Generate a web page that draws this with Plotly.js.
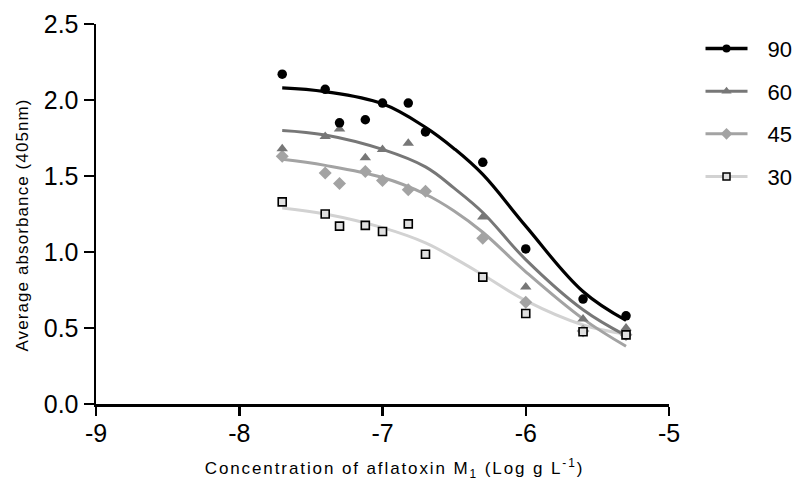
<!DOCTYPE html>
<html>
<head>
<meta charset="utf-8">
<script src="https://cdn.plot.ly/plotly-3.0.1.min.js"></script>
<style>
html,body{margin:0;padding:0;background:#fff;}
#chart{width:795px;height:483px;}
#chart .g-xtitle text{letter-spacing:1.9px;}
#chart .g-xtitle{transform:translate(12px,3px);}
#chart .g-ytitle text{letter-spacing:1.1px;}
#chart .g-ytitle{transform:translate(-3px,11px);}
#chart .legendtext{transform:translateX(15px);}
#chart .legend .scrollbox, #chart .legend, #chart .infolayer{clip-path:none !important;}
#chart g.xtick{transform:translateY(-4px);}
</style>
</head>
<body>
<div id="chart"></div>
<script>
// Measured points: log concentration (Log g L-1)
var logConc = [-7.7, -7.4, -7.3, -7.12, -7.0, -6.82, -6.7, -6.3, -6.0, -5.6, -5.3];
var abs90 = [2.17, 2.07, 1.85, 1.87, 1.98, 1.98, 1.79, 1.59, 1.02, 0.69, 0.58];
var logConc60 = [-7.7, -7.4, -7.3, -7.12, -7.0, -6.82, -6.3, -6.0, -5.6, -5.3];
var abs60 = [1.68, 1.76, 1.81, 1.62, 1.675, 1.715, 1.23, 0.77, 0.56, 0.50];
var abs45 = [1.63, 1.52, 1.45, 1.53, 1.47, 1.41, 1.40, 1.09, 0.67, 0.48, 0.455];
var abs30 = [1.33, 1.25, 1.17, 1.175, 1.135, 1.185, 0.985, 0.835, 0.595, 0.475, 0.455];

// Fitted curves
var curveX = [-7.7, -7.4, -7.0, -6.7, -6.5, -6.3, -6.0, -5.6, -5.3];
var fit90 = [2.08, 2.055, 1.975, 1.82, 1.68, 1.51, 1.17, 0.74, 0.55];
var fit60 = [1.80, 1.77, 1.675, 1.56, 1.42, 1.26, 0.95, 0.62, 0.45];
var fit45 = [1.61, 1.57, 1.49, 1.38, 1.27, 1.13, 0.87, 0.56, 0.38];
var fit30 = [1.29, 1.25, 1.16, 1.06, 0.96, 0.85, 0.68, 0.52, 0.46];

var seriesNames = ['90', '60', '45', '30'];
var xTicks = [-9, -8, -7, -6, -5];
var yTicks = [0, 0.5, 1.0, 1.5, 2.0, 2.5];
var yTickText = ['0.0', '0.5', '1.0', '1.5', '2.0', '2.5'];

var col90 = '#000000', col60 = '#777777', col45 = '#a3a3a3', col30 = '#d2d2d2';

var traces = [
  // curves
  {x: curveX, y: fit30, mode: 'lines', line: {color: col30, width: 3, shape: 'spline', smoothing: 1.1}, showlegend: false, hoverinfo: 'skip'},
  {x: curveX, y: fit45, mode: 'lines', line: {color: col45, width: 3, shape: 'spline', smoothing: 1.1}, showlegend: false, hoverinfo: 'skip'},
  {x: curveX, y: fit60, mode: 'lines', line: {color: col60, width: 3, shape: 'spline', smoothing: 1.1}, showlegend: false, hoverinfo: 'skip'},
  {x: curveX, y: fit90, mode: 'lines', line: {color: col90, width: 3.2, shape: 'spline', smoothing: 1.1}, showlegend: false, hoverinfo: 'skip'},
  // points
  {x: logConc, y: abs45, mode: 'markers', marker: {symbol: 'diamond', size: 10, color: col45}, showlegend: false},
  {x: logConc60, y: abs60, mode: 'markers', marker: {symbol: 'triangle-up', size: 10, color: col60}, showlegend: false},
  {x: logConc, y: abs90, mode: 'markers', marker: {symbol: 'circle', size: 9.5, color: col90}, showlegend: false},
  {x: logConc, y: abs30, mode: 'markers', marker: {symbol: 'square', size: 8, color: '#e0e0e0', line: {color: '#000', width: 1.6}}, showlegend: false},
  // legend entries
  {x: [null], y: [null], name: seriesNames[0], mode: 'lines+markers', legendgroup: 'a', line: {color: col90, width: 3.5}, marker: {symbol: 'circle', size: 8, color: col90}},
  {x: [null], y: [null], name: seriesNames[1], mode: 'lines+markers', legendgroup: 'b', line: {color: col60, width: 3}, marker: {symbol: 'triangle-up', size: 9, color: col60}},
  {x: [null], y: [null], name: seriesNames[2], mode: 'lines+markers', legendgroup: 'c', line: {color: col45, width: 3}, marker: {symbol: 'diamond', size: 9, color: col45}},
  {x: [null], y: [null], name: seriesNames[3], mode: 'lines+markers', legendgroup: 'd', line: {color: col30, width: 3}, marker: {symbol: 'square', size: 7, color: '#e0e0e0', line: {color: '#000', width: 1.5}}}
];

var layout = {
  width: 795, height: 483,
  margin: {l: 96, r: 126, t: 24, b: 79},
  paper_bgcolor: '#fff', plot_bgcolor: '#fff',
  font: {family: 'Liberation Sans, Arial, sans-serif', color: '#000'},
  showlegend: true,
  legend: {x: 1.055, y: 0.99, xanchor: 'left', yanchor: 'top', font: {size: 22, color: '#000'},
           itemwidth: 42, tracegroupgap: 11, traceorder: 'grouped', bgcolor: 'rgba(0,0,0,0)'},
  xaxis: {
    range: [-9, -5], tickvals: xTicks, ticktext: xTicks.map(String),
    showgrid: false, zeroline: false, showline: true, linecolor: '#000', linewidth: 2.5,
    ticks: 'outside', ticklen: 9, tickwidth: 2.5, tickcolor: '#000',
    tickfont: {size: 25, color: '#000'},
    title: {text: 'Concentration of aflatoxin M<sub>1</sub> (Log g L<sup>-1</sup>)', font: {size: 17, color: '#000'}, standoff: 10}
  },
  yaxis: {
    range: [0, 2.5], tickvals: yTicks, ticktext: yTickText,
    showgrid: false, zeroline: false, showline: true, linecolor: '#000', linewidth: 2.5,
    ticks: 'outside', ticklen: 10, tickwidth: 2.5, tickcolor: '#000',
    tickfont: {size: 25, color: '#000'},
    title: {text: 'Average absorbance (405nm)', font: {size: 17, color: '#000'}, standoff: 8}
  }
};

Plotly.newPlot('chart', traces, layout, {displayModeBar: false, staticPlot: true});
</script>
</body>
</html>
